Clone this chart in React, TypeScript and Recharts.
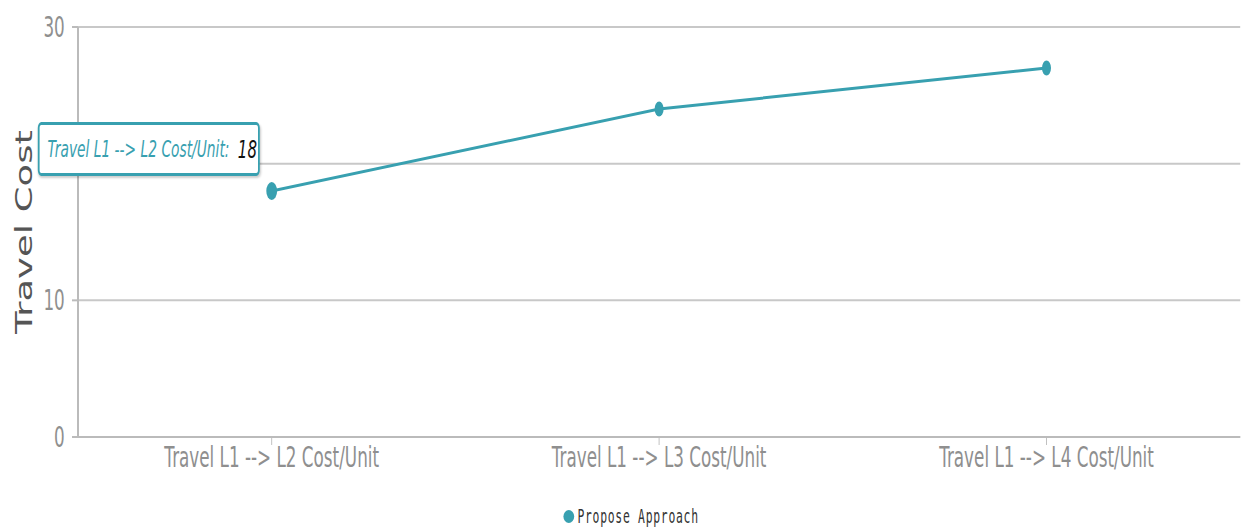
import React from 'react';
import { LineChart, Line, XAxis, YAxis, CartesianGrid, Tooltip, Legend } from 'recharts';

// values
const categories = ['Travel L1 --> L2 Cost/Unit', 'Travel L1 --> L3 Cost/Unit', 'Travel L1 --> L4 Cost/Unit'];
const proposeApproach = [18, 24, 27];
const yTicks = [0, 10, 20, 30];

const TEAL = '#38a0b0';
const SX = 0.6; // the reference is squeezed horizontally
const W = 1242 / SX;
const H = 529;

const data = categories.map((name, i) => ({
  name,
  propose: proposeApproach[i],
}));

const TipBox = ({ active, payload, label }: any) => {
  if (!active || !payload || !payload.length) return null;
  return (
    <div
      style={{
        boxSizing: 'border-box',
        width: 370,
        height: 54,
        display: 'flex',
        alignItems: 'center',
        padding: '0 13px',
        background: '#fff',
        border: `3px solid ${TEAL}`,
        borderRadius: 6,
        boxShadow: '1px 2px 3px rgba(0,0,0,0.2)',
        fontFamily: 'DejaVu Sans',
        fontStyle: 'italic',
        fontSize: 23,
        whiteSpace: 'nowrap',
      }}
    >
      <span style={{ color: TEAL }}>{label}:</span>
      <span style={{ color: '#111', marginLeft: 14, fontSize: 25 }}>{payload[0].value}</span>
    </div>
  );
};

const LegendBox = () => (
  <div
    style={{
      width: W,
      height: 52,
      boxSizing: 'border-box',
      paddingTop: 26,
      paddingLeft: 34,
      display: 'flex',
      justifyContent: 'center',
      alignItems: 'center',
    }}
  >
    <div style={{ display: 'flex', alignItems: 'center', height: 18 }}>
      <div style={{ width: 18, height: 13, borderRadius: '50%', background: TEAL, marginRight: 5 }} />
      <span style={{ fontFamily: 'DejaVu Sans Mono', fontSize: 19, letterSpacing: 1.2, color: '#333' }}>
        Propose Approach
      </span>
    </div>
  </div>
);

export default function App() {
  return (
    <div style={{ position: 'absolute', left: 0, top: 0, width: 1242, height: H, overflow: 'hidden', background: '#fff' }}>
      <div style={{ width: W, height: H, transform: `scaleX(${SX})`, transformOrigin: '0 0' }}>
        <LineChart width={W} height={H} data={data} margin={{ top: 27, right: 3, left: 0, bottom: 0 }}>
          <CartesianGrid vertical={false} stroke="#c8c8c8" strokeWidth={2} />
          <XAxis
            dataKey="name"
            scale="band"
            height={40}
            stroke="#bbb"
            strokeWidth={2}
            tickSize={8}
            tickMargin={2}
            tick={{ fill: '#8f8f8f', fontSize: 28, fontFamily: 'DejaVu Sans' }}
            tickLine={{ stroke: '#bbb', strokeWidth: 1.5 }}
          />
          <YAxis
            domain={[0, 30]}
            ticks={yTicks}
            width={130}
            stroke="#bbb"
            strokeWidth={3.3}
            tickSize={10}
            tickMargin={12}
            tick={{ fill: '#8f8f8f', fontSize: 28, fontFamily: 'DejaVu Sans' }}
            tickLine={{ stroke: '#bbb', strokeWidth: 2 }}
            label={{
              value: 'Travel Cost',
              angle: -90,
              position: 'insideLeft',
              offset: 40,
              fill: '#555',
              fontSize: 37,
              fontFamily: 'DejaVu Sans',
              style: { textAnchor: 'middle' },
            }}
          />
          <Tooltip
            active
            defaultIndex={0}
            cursor={false}
            isAnimationActive={false}
            position={{ x: 63, y: 122 }}
            content={<TipBox />}
            wrapperStyle={{ outline: 'none' }}
          />
          <Legend
            verticalAlign="bottom"
            height={52}
            content={<LegendBox />}
            wrapperStyle={{ left: 0, width: W, bottom: 0 }}
          />
          <Line
            type="linear"
            dataKey="propose"
            name="Propose Approach"
            stroke={TEAL}
            strokeWidth={3}
            dot={{ r: 7.5, fill: TEAL, stroke: TEAL, strokeWidth: 0 }}
            activeDot={{ r: 9, fill: TEAL, stroke: TEAL, strokeWidth: 0 }}
            isAnimationActive={false}
          />
        </LineChart>
      </div>
    </div>
  );
}
